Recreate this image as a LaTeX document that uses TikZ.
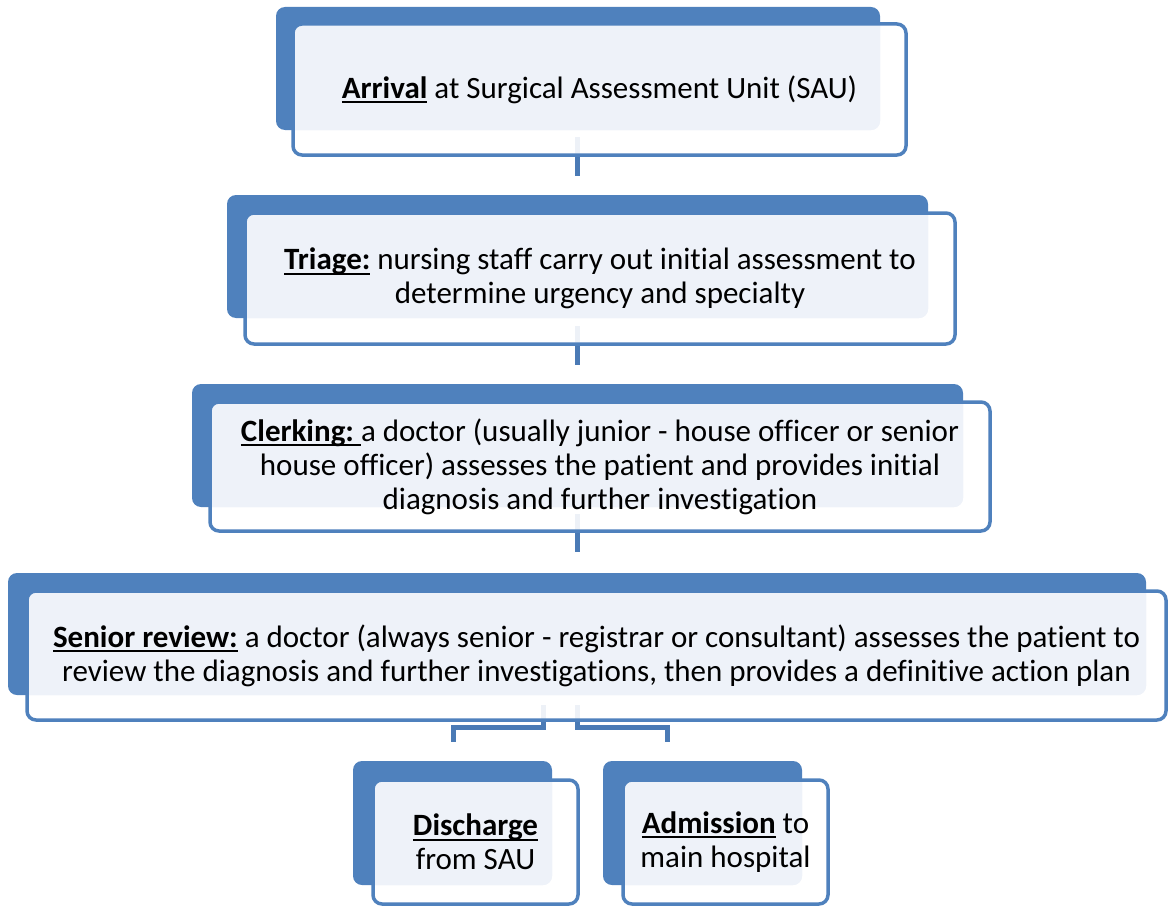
\documentclass[tikz,border=0pt]{standalone}
\usepackage{fontspec}
\setmainfont[Ligatures=NoCommon]{Carlito}
\definecolor{dblue}{HTML}{4F81BD}
\definecolor{cblue}{HTML}{4A7AB5}
\definecolor{lfill}{HTML}{EEF2F9}
\newcommand\stepoverlay[2]{%
  \begin{scope}
    \clip[rounded corners=9pt] (#2.north west) rectangle (#2.south east);
    \fill[lfill,rounded corners=9pt] (#1.north west) rectangle (#1.south east);
  \end{scope}
  \draw[edgeline,rounded corners=9pt] (#2.north west) rectangle (#2.south east);}
\newcommand\myul[1]{\leavevmode\setbox0=\hbox{#1}\rlap{\rule[-5pt]{\wd0}{2.2pt}}\box0\relax}
\begin{document}
\begin{tikzpicture}[x=1pt,y=1pt,
  backbox/.style={rectangle,rounded corners=9pt,fill=dblue,draw=none,outer sep=0pt,inner sep=0pt},
  frontbox/.style={rectangle,rounded corners=9pt,fill=white,draw=none,outer sep=0pt,inner sep=0pt},
  edgeline/.style={draw=dblue,line width=3.5pt},
  conn/.style={draw=cblue,line width=5pt,line join=miter},
  txt/.style={align=center,font=\fontsize{31}{34}\selectfont,inner sep=0pt}]
\useasboundingbox (0,0) rectangle (1168,-907);
% connectors
\coordinate (e1) at (577,-176);
\coordinate (e2) at (577,-365);
\coordinate (e3) at (577,-552);
\coordinate (bl) at (543,-705);
\coordinate (br) at (577,-705);
\coordinate (el) at (453,-742);
\coordinate (er) at (667,-742);
\draw[conn] (577,-137) -- (e1);
\draw[conn] (577,-326) -- (e2);
\draw[conn] (577,-514) -- (e3);
\draw[conn] (bl) |- (453,-727) -- (el);
\draw[conn] (br) |- (667,-727) -- (er);
% box 1
\node[backbox,minimum width=604,minimum height=123] (b1) at (578,-68.5) {};
\node[frontbox,minimum width=613,minimum height=131,opacity=0.9] (f1) at (599.5,-89.5) {};
\stepoverlay{b1}{f1}
\node[txt] (t1) at (f1.center) {\myul{\textbf{Arrival}} at Surgical Assessment Unit (SAU)};
% box 2
\node[backbox,minimum width=701,minimum height=123] (b2) at (577.5,-256.5) {};
\node[frontbox,minimum width=710,minimum height=131,opacity=0.9] (f2) at (600,-278.5) {};
\stepoverlay{b2}{f2}
\node[txt] (t2) at (f2.center) {\myul{\textbf{Triage:}} nursing staff carry out initial assessment to\\determine urgency and specialty};
% box 3
\node[backbox,minimum width=771,minimum height=123] (b3) at (577.5,-445.5) {};
\node[frontbox,minimum width=780,minimum height=129,opacity=0.9] (f3) at (600,-466.5) {};
\stepoverlay{b3}{f3}
\node[txt] (t3) at (f3.center) {\myul{\textbf{Clerking:}\ }a doctor (usually junior - house officer or senior\\house officer) assesses the patient and provides initial\\diagnosis and further investigation};
% box 4
\node[backbox,minimum width=1138,minimum height=122] (b4) at (577,-634) {};
\node[frontbox,minimum width=1139,minimum height=129,opacity=0.9] (f4) at (596.5,-655.5) {};
\stepoverlay{b4}{f4}
\node[txt] (t4) at (f4.center) {\myul{\textbf{Senior review:}} a doctor (always senior - registrar or consultant) assesses the patient to\\review the diagnosis and further investigations, then provides a definitive action plan};
% box 5
\node[backbox,minimum width=199,minimum height=124] (b5) at (452.5,-823) {};
\node[frontbox,minimum width=205,minimum height=124,opacity=0.9] (f5) at (475.5,-842) {};
\stepoverlay{b5}{f5}
\node[txt] (t5) at (f5.center) {\myul{\textbf{Discharge}}\\from SAU};
% box 6
\node[backbox,minimum width=199,minimum height=124] (b6) at (702.5,-823) {};
\node[frontbox,minimum width=205,minimum height=124,opacity=0.9] (f6) at (725.5,-842) {};
\stepoverlay{b6}{f6}
\node[txt] (t6) at (f6.center) {\myul{\textbf{Admission}} to\\main hospital};
\end{tikzpicture}
\end{document}
